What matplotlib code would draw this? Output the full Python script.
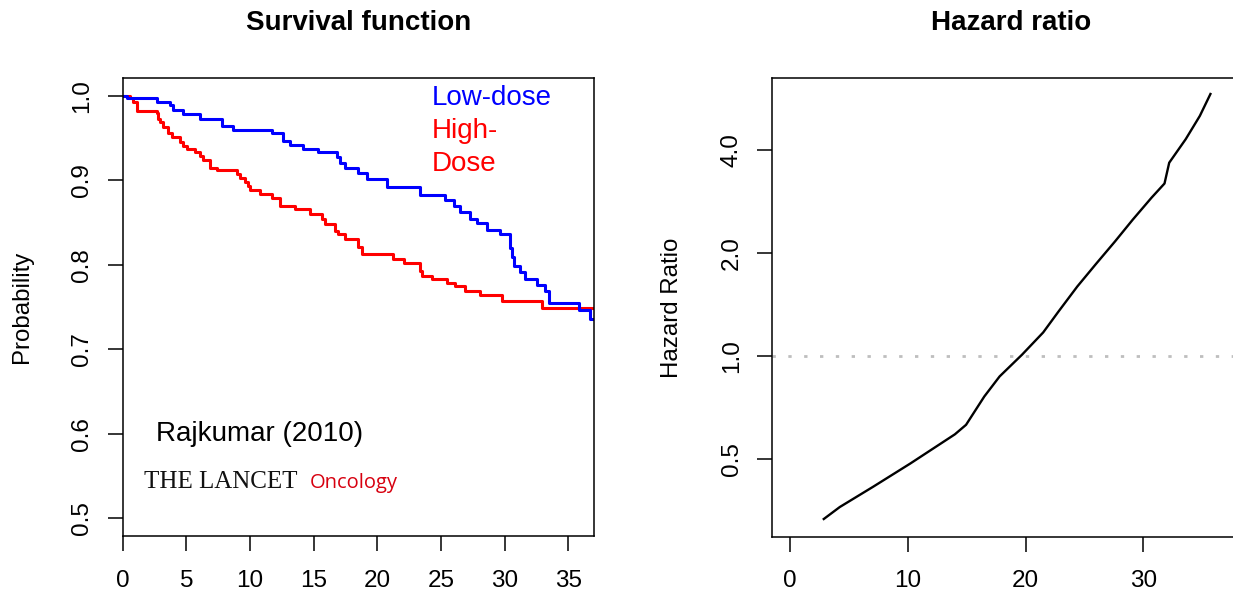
import matplotlib
matplotlib.use("Agg")
import matplotlib.pyplot as plt

plt.rcParams['font.family'] = ['Liberation Sans', 'DejaVu Sans']

# survival function (Kaplan-Meier steps), months vs probability
low_t = [0, 0.3, 2.67, 3.72, 3.98, 4.76, 6.08, 7.78, 8.70, 11.71,
         12.63, 13.15, 14.2, 15.38, 16.82, 17.08, 17.48, 18.52, 19.18, 20.75,
         23.37, 25.34, 25.99, 26.52, 27.30, 27.83, 28.62, 29.66, 30.45, 30.58,
         30.71, 31.23, 31.63, 32.55, 33.2, 33.46, 35.82, 36.74, 37]
low_s = [1.0, 0.997, 0.992, 0.989, 0.983, 0.978, 0.973, 0.964, 0.960, 0.956,
         0.947, 0.942, 0.937, 0.933, 0.9275, 0.920, 0.915, 0.909, 0.902, 0.892,
         0.883, 0.877, 0.869, 0.862, 0.854, 0.849, 0.841, 0.836, 0.82, 0.809,
         0.799, 0.791, 0.783, 0.776, 0.769, 0.755, 0.746, 0.736, 0.736]

high_t = [0, 0.57, 0.83, 1.1, 2.67, 2.8, 2.93, 3.19, 3.58, 3.85,
          4.5, 4.77, 5.03, 5.68, 6.08, 6.34, 6.86, 7.39, 8.96, 9.22,
          9.62, 9.88, 10.0, 10.8, 11.7, 12.37, 13.55, 14.73, 15.65, 15.9,
          16.69, 16.95, 17.48, 18.52, 18.78, 21.27, 22.06, 23.37, 23.5, 24.29,
          25.47, 26.12, 26.91, 28.09, 29.8, 32.94, 37]
high_s = [1.0, 0.997, 0.992, 0.982, 0.979, 0.973, 0.969, 0.9635, 0.956, 0.951,
          0.945, 0.941, 0.937, 0.933, 0.929, 0.9244, 0.915, 0.912, 0.9075, 0.903,
          0.898, 0.893, 0.888, 0.884, 0.879, 0.870, 0.8655, 0.8605, 0.854, 0.848,
          0.840, 0.836, 0.830, 0.8205, 0.8126, 0.8067, 0.8016, 0.793, 0.787, 0.783,
          0.7785, 0.7746, 0.7694, 0.7644, 0.7576, 0.7487, 0.7487]

# hazard ratio over time
hr_t = [2.87, 4.23, 7.07, 10.22, 14.0, 14.95, 16.5, 17.8, 19.7, 21.5,
        22.8, 24.4, 26.0, 27.6, 29.1, 30.7, 31.8, 32.2, 33.6, 34.8, 35.7]
hr_v = [0.333, 0.361, 0.414, 0.484, 0.589, 0.628, 0.76, 0.87, 1.007, 1.17,
        1.347, 1.595, 1.859, 2.16, 2.50, 2.90, 3.19, 3.67, 4.30, 5.03, 5.83]

surv_xticks = [0, 5, 10, 15, 20, 25, 30, 35]
surv_yticks = [0.5, 0.6, 0.7, 0.8, 0.9, 1.0]
hr_xticks = [0, 10, 20, 30]
hr_yticks = [0.5, 1.0, 2.0, 4.0]

W, H = 1233, 592
fig = plt.figure(figsize=(W / 100, H / 100), dpi=100)

def px_axes(x0, y0, x1, y1):
    return fig.add_axes([x0 / W, 1 - y1 / H, (x1 - x0) / W, (y1 - y0) / H])

tick_fs = 17.5

def style(ax):
    for s in ax.spines.values():
        s.set_linewidth(1.1)
    ax.tick_params(length=10.6, width=1.1, labelsize=tick_fs)
    ax.tick_params(axis='x', pad=13.5)
    ax.tick_params(axis='y', labelrotation=90, pad=10.6)
    for lab in ax.get_yticklabels():
        lab.set_va('center')

# ---- left: survival function
ax1 = px_axes(122.7, 78.3, 593.7, 536.2)
ax1.step(high_t, high_s, where='post', color='#ff0000', lw=2.2)
ax1.step(low_t, low_s, where='post', color='#0000ff', lw=2.2)
ax1.set_xlim(0, 37)
ax1.set_ylim(0.479, 1.0206)
ax1.set_xticks(surv_xticks)
ax1.set_yticks(surv_yticks)
ax1.set_yticklabels(['%.1f' % v for v in surv_yticks])
style(ax1)
ax1.text(-0.2138, 0.5, 'Probability', transform=ax1.transAxes, rotation=90,
         ha='center', va='center', fontsize=17.3)

ax1.text(24.3, 0.989, 'Low-dose', color='#0000ff', fontsize=20, va='baseline')
ax1.text(24.3, 0.950, 'High-', color='#ff0000', fontsize=20, va='baseline')
ax1.text(24.3, 0.9114, 'Dose', color='#ff0000', fontsize=20, va='baseline')
ax1.text(2.62, 0.5917, 'Rajkumar (2010)', fontsize=20, va='baseline')
ax1.text(1.66, 0.5366, 'THE LANCET', fontsize=18, va='baseline',
         family=['Liberation Serif', 'DejaVu Serif'], color='#111111')
ax1.text(14.7, 0.5366, 'Oncology', fontsize=14.5, va='baseline',
         family=['Open Sans', 'DejaVu Sans'], color='#d7000f')

fig.text((122.7 + 593.7) / 2 / W, 1 - 29.5 / H, 'Survival function',
         ha='center', va='baseline', fontsize=20, fontweight='bold')

# ---- right: hazard ratio (log scale)
ax2 = px_axes(772.3, 78.3, 1249.3, 536.5)
ax2.set_yscale('log')
ax2.axhline(1.0, color='#bebebe', lw=2, linestyle=(0, (1.2, 4.5)))
ax2.plot(hr_t, hr_v, color='black', lw=1.7)
ax2.set_xlim(-1.5, 39)
ax2.set_ylim(0.296, 6.48)
ax2.set_xticks(hr_xticks)
ax2.set_yticks(hr_yticks)
ax2.yaxis.set_minor_locator(matplotlib.ticker.NullLocator())
ax2.set_yticklabels(['%.1f' % v for v in hr_yticks])
style(ax2)
ax2.text((671.5 - 772.3) / 477, 0.5, 'Hazard Ratio', transform=ax2.transAxes,
         rotation=90, ha='center', va='center', fontsize=17.3)

fig.text((772.3 + 1249.3) / 2 / W, 1 - 29.5 / H, 'Hazard ratio',
         ha='center', va='baseline', fontsize=20, fontweight='bold')

fig.savefig('out.png', dpi=100)
